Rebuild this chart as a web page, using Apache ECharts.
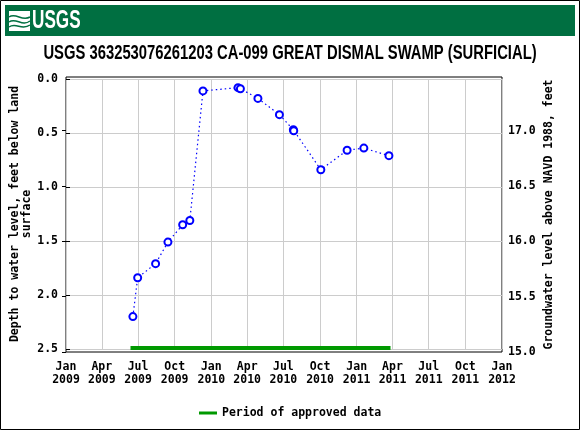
<!DOCTYPE html>
<html><head><meta charset="utf-8">
<script src="https://cdn.jsdelivr.net/npm/echarts@6/dist/echarts.min.js"></script>
<style>html,body{margin:0;padding:0;background:#fff}#c{width:580px;height:430px}</style>
</head><body><div id="c"></div>
<script>
const titleText = 'USGS 363253076261203 CA-099 GREAT DISMAL SWAMP (SURFICIAL)';
const dates = ['2009-06-18','2009-06-30','2009-08-14','2009-09-14','2009-10-21','2009-11-08',
  '2009-12-11','2010-03-09','2010-03-15','2010-04-28','2010-06-21','2010-07-26','2010-07-27',
  '2010-10-03','2010-12-08','2011-01-19','2011-03-23'];
const depths = [2.20,1.84,1.71,1.51,1.35,1.31,0.11,0.08,0.09,0.18,0.33,0.47,0.48,0.84,0.66,0.64,0.71];
const approvedPeriod = ['2009-06-12','2011-03-27'];
const approvedDepth = 2.49;
const quarterTicks = ['2009-01-01','2009-04-01','2009-07-01','2009-10-01','2010-01-01','2010-04-01',
  '2010-07-01','2010-10-01','2011-01-01','2011-04-01','2011-07-01','2011-10-01','2012-01-01'];
const monthNames = ['Jan','Feb','Mar','Apr','May','Jun','Jul','Aug','Sep','Oct','Nov','Dec'];
const depthTicks = [0, 0.5, 1.0, 1.5, 2.0, 2.5];
const elevTicks = [15.0, 15.5, 16.0, 16.5, 17.0];
const elevRange = [15.0, 17.485];
const leftName = 'Depth to water level, feet below land\nsurface';
const rightName = 'Groundwater level above NAVD 1988, feet';
const legendName = 'Period of approved data';

function toTs(s){ const p = s.split('-').map(Number); return Date.UTC(p[0], p[1]-1, p[2]); }
const mono = 'DejaVu Sans Mono';
const chart = echarts.init(document.getElementById('c'), null, {renderer:'canvas'});
const tickTs = quarterTicks.map(toTs);

chart.setOption({
  animation: false,
  backgroundColor: '#fff',
  legend: {
    left: 194, top: 402, itemWidth: 18, itemHeight: 3, icon: 'rect', itemGap: 6,
    data: [{name: legendName, itemStyle: {color: '#009900'}}],
    textStyle: {fontFamily: mono, fontWeight: 'bold', fontSize: 11.5, color: '#000', padding: [0,0,0,0]}
  },
  grid: [
    {left: 66, right: 78, top: 79, bottom: 81, outerBoundsMode: 'none', containLabel: false},
    {left: 66, right: 78, top: 77, bottom: 78, outerBoundsMode: 'none', containLabel: false,
     show: true, borderColor: '#000', borderWidth: 1, backgroundColor: 'transparent'}
  ],
  xAxis: [
    {
      type: 'value', gridIndex: 0, min: tickTs[0], max: tickTs[tickTs.length-1],
      axisLine: {show: false},
      axisTick: {show: false, customValues: tickTs},
      splitLine: {show: true, lineStyle: {color: '#cccccc', width: 1}},
      axisLabel: {
        customValues: tickTs, margin: 12, lineHeight: 13,
        fontFamily: mono, fontWeight: 'bold', fontSize: 11.5, color: '#000',
        formatter: function(v){ const d = new Date(v); return monthNames[d.getUTCMonth()] + '\n' + d.getUTCFullYear(); }
      }
    },
    {type: 'value', gridIndex: 1, show: false, min: 0, max: 1}
  ],
  yAxis: [
    {
      type: 'value', gridIndex: 0, inverse: true, min: depthTicks[0], max: depthTicks[depthTicks.length-1], interval: 0.5,
      axisLine: {show: false},
      axisTick: {show: true, inside: true, length: 4, lineStyle: {color: '#000'}},
      splitLine: {show: true, lineStyle: {color: '#cccccc', width: 1}},
      axisLabel: {margin: 8, fontFamily: mono, fontWeight: 'bold', fontSize: 11.5, color: '#000',
        formatter: v => v.toFixed(1)},
      name: leftName, nameLocation: 'middle', nameRotate: 90, nameGap: 33, nameMoveOverlap: false,
      nameTextStyle: {fontFamily: mono, fontWeight: 'bold', fontSize: 11.5, color: '#000', lineHeight: 12}
    },
    {
      type: 'value', gridIndex: 1, position: 'right', min: elevRange[0], max: elevRange[1], interval: 0.5,
      axisLine: {show: false},
      axisTick: {show: true, inside: true, length: 4, lineStyle: {color: '#000'}},
      splitLine: {show: false},
      axisLabel: {margin: 6, fontFamily: mono, fontWeight: 'bold', fontSize: 11.5, color: '#000',
        showMaxLabel: false,
        formatter: v => (elevTicks.some(t => Math.abs(t - v) < 1e-6) ? v.toFixed(1) : '')},
      name: rightName, nameLocation: 'middle', nameRotate: 90, nameGap: 41, nameMoveOverlap: false,
      nameTextStyle: {fontFamily: mono, fontWeight: 'bold', fontSize: 11.5, color: '#000'}
    }
  ],
  series: [
    {
      name: legendName, type: 'line', xAxisIndex: 0, yAxisIndex: 0, symbol: 'none',
      lineStyle: {color: '#009900', width: 4}, itemStyle: {color: '#009900'},
      data: approvedPeriod.map(d => [toTs(d), approvedDepth]), z: 2
    },
    {
      name: 'depth', type: 'line', xAxisIndex: 0, yAxisIndex: 0,
      symbol: 'emptyCircle', symbolSize: 7,
      itemStyle: {color: '#0000ff', borderWidth: 1.2},
      lineStyle: {color: '#0000ff', width: 1.2, type: [1.5, 3]},
      data: dates.map((d, i) => [toTs(d), depths[i]]), z: 3
    }
  ],
  graphic: [
    {type: 'rect', shape: {x: 0.5, y: 0.5, width: 579, height: 429}, style: {fill: 'none', stroke: '#000', lineWidth: 1}, z: 100},
    {type: 'rect', shape: {x: 5, y: 5, width: 570, height: 31}, style: {fill: '#006f41'}, z: 10},
    {type: 'rect', shape: {x: 9, y: 11, width: 21, height: 20}, style: {fill: '#ffffff'}, z: 11},
    {type: 'group', z: 12, children: [
      {type: 'bezierCurve', shape: {x1: 9, y1: 17, x2: 30, y2: 17, cpx1: 16, cpy1: 12, cpx2: 22, cpy2: 22}, style: {stroke: '#006f41', lineWidth: 1.5, fill: 'none'}, z: 12},
      {type: 'bezierCurve', shape: {x1: 9, y1: 22, x2: 30, y2: 21, cpx1: 16, cpy1: 17, cpx2: 22, cpy2: 27}, style: {stroke: '#006f41', lineWidth: 1.5, fill: 'none'}, z: 12},
      {type: 'bezierCurve', shape: {x1: 9, y1: 27, x2: 30, y2: 25, cpx1: 16, cpy1: 22, cpx2: 22, cpy2: 31}, style: {stroke: '#006f41', lineWidth: 1.5, fill: 'none'}, z: 12}
    ]},
    {type: 'text', x: 32, y: 21, scaleX: 0.66, z: 12,
      style: {text: 'USGS', fill: '#ffffff', font: 'bold 26px "Liberation Sans"', verticalAlign: 'middle', textVerticalAlign: 'middle'}},
    {type: 'text', x: 290, y: 53, scaleX: 0.74, z: 12,
      style: {text: titleText, fill: '#000', font: 'bold 20px "Liberation Sans"', align: 'center', textAlign: 'center', verticalAlign: 'middle', textVerticalAlign: 'middle'}}
  ]
});
</script></body></html>
